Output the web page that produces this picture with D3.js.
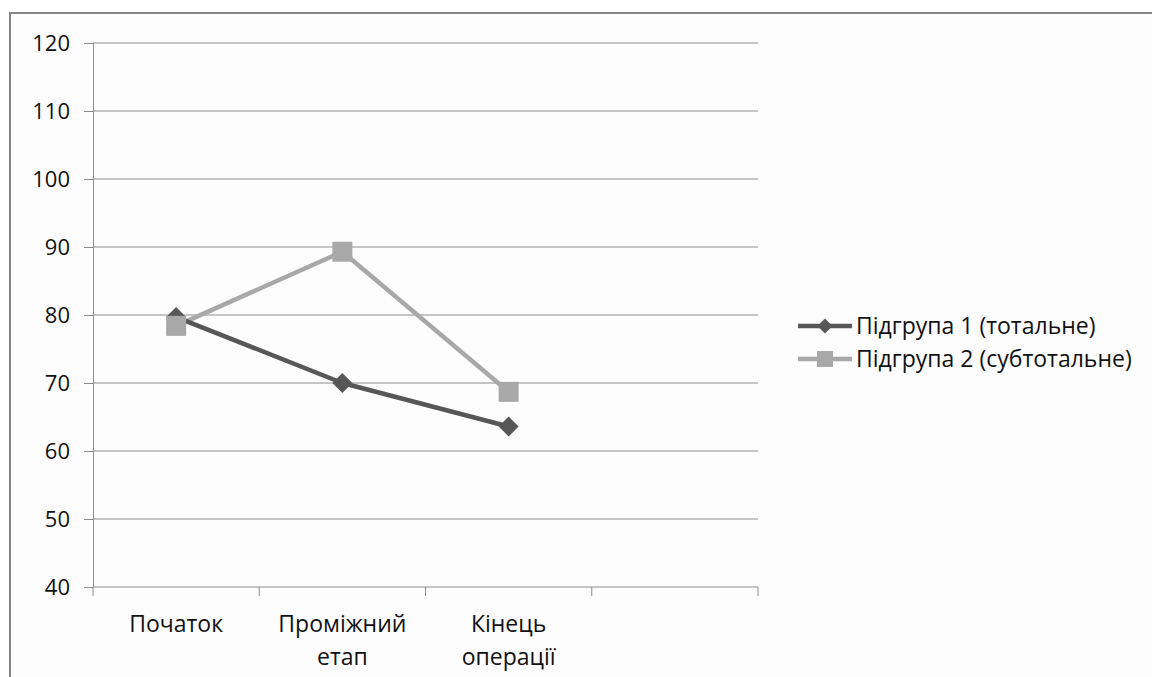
<!DOCTYPE html>
<html>
<head>
<meta charset="utf-8">
<script src="https://cdnjs.cloudflare.com/ajax/libs/d3/7.8.5/d3.min.js"></script>
<style>
  html, body { margin: 0; padding: 0; background: #ffffff; }
  svg { display: block; }
  text { font-family: "Open Sans", "DejaVu Sans", sans-serif; fill: #111111; }
</style>
</head>
<body>
<svg id="chart" width="1152" height="677"></svg>
<script>
// Category labels (the fourth slot on the axis is left empty)
const categories = ["Початок", "Проміжний етап", "Кінець операції", ""];
const seriesNames = ["Підгрупа 1 (тотальне)", "Підгрупа 2 (субтотальне)"];
const series1 = [79.7, 70.0, 63.6];
const series2 = [78.4, 89.3, 68.7];
const yTicks = [40, 50, 60, 70, 80, 90, 100, 110, 120];

const svg = d3.select("#chart");
const W = 1152, H = 677;
const TICK_FONT = 22;
const LABEL_FONT = 23;

// Outer frame
svg.append("rect").attr("x", 0).attr("y", 0).attr("width", W).attr("height", H).attr("fill", "#ffffff");
svg.append("rect")
  .attr("x", 10).attr("y", 13).attr("width", W + 20).attr("height", H + 20)
  .attr("fill", "#fdfdfd").attr("stroke", "#858585").attr("stroke-width", 2);

const plot = { left: 93, right: 758, top: 43, bottom: 587 };

const x = d3.scaleBand().domain(d3.range(categories.length))
  .range([plot.left, plot.right]).paddingInner(0).paddingOuter(0);
const y = d3.scaleLinear().domain([40, 120]).range([plot.bottom, plot.top]);

// Horizontal gridlines
svg.append("g").selectAll("line").data(yTicks.filter(t => t > 40)).join("line")
  .attr("x1", plot.left).attr("x2", plot.right)
  .attr("y1", d => y(d)).attr("y2", d => y(d))
  .attr("stroke", "#8c8c8c").attr("stroke-width", 1);

// Y axis
const yAxis = d3.axisLeft(y).tickValues(yTicks).tickSize(9).tickPadding(14);
const gy = svg.append("g").attr("transform", `translate(${plot.left},0)`).call(yAxis);
gy.attr("font-size", TICK_FONT).attr("font-family", null);
gy.select(".domain").attr("stroke", "#8c8c8c");
gy.selectAll(".tick line").attr("stroke", "#8c8c8c");
gy.selectAll(".tick text").attr("fill", "#111111");

// X axis: ticks at category boundaries
const boundaries = d3.range(categories.length + 1).map(i => plot.left + i * x.bandwidth());
const gx = svg.append("g");
gx.append("line").attr("x1", plot.left).attr("x2", plot.right)
  .attr("y1", plot.bottom).attr("y2", plot.bottom).attr("stroke", "#8c8c8c");
gx.selectAll("line.tk").data(boundaries).join("line").attr("class", "tk")
  .attr("x1", d => d).attr("x2", d => d)
  .attr("y1", plot.bottom).attr("y2", plot.bottom + 9).attr("stroke", "#8c8c8c");

// Category labels, wrapped onto two lines where needed
const catLines = categories.map(c => {
  const parts = c.split(" ");
  return parts.length > 1 ? parts : [c];
});
gx.selectAll("text.cat").data(categories.map((c, i) => i)).join("text").attr("class", "cat")
  .attr("x", i => x(i) + x.bandwidth() / 2)
  .attr("y", 632)
  .attr("text-anchor", "middle")
  .attr("font-size", LABEL_FONT)
  .each(function(i) {
    const t = d3.select(this);
    catLines[i].forEach((ln, k) => {
      t.append("tspan").attr("x", x(i) + x.bandwidth() / 2).attr("dy", k === 0 ? 0 : 33).text(ln);
    });
  });

const cx = i => x(i) + x.bandwidth() / 2;
const line = d3.line().x((d, i) => cx(i)).y(d => y(d));

const col1 = "#575757", col2 = "#a8a8a8";

// Series 2 (light, squares)
svg.append("path").datum(series2).attr("d", line)
  .attr("fill", "none").attr("stroke", col2).attr("stroke-width", 4.5).attr("stroke-linejoin", "round");
// Series 1 (dark, diamonds)
svg.append("path").datum(series1).attr("d", line)
  .attr("fill", "none").attr("stroke", col1).attr("stroke-width", 4.5).attr("stroke-linejoin", "round");

const diamond = d3.symbol().type(d3.symbolSquare).size(200);
svg.append("g").selectAll("path").data(series1).join("path")
  .attr("d", diamond)
  .attr("transform", (d, i) => `translate(${cx(i)},${y(d)}) rotate(45)`)
  .attr("fill", col1);

svg.append("g").selectAll("rect").data(series2).join("rect")
  .attr("x", (d, i) => cx(i) - 10).attr("y", d => y(d) - 10)
  .attr("width", 20).attr("height", 20).attr("fill", col2);

// Legend
const legend = svg.append("g");
const legendItems = [
  { name: seriesNames[0], color: col1, marker: "diamond", y: 326 },
  { name: seriesNames[1], color: col2, marker: "square", y: 359 }
];
legendItems.forEach(it => {
  legend.append("line").attr("x1", 798).attr("x2", 852).attr("y1", it.y).attr("y2", it.y)
    .attr("stroke", it.color).attr("stroke-width", 4.5);
  if (it.marker === "diamond") {
    legend.append("path").attr("d", d3.symbol().type(d3.symbolSquare).size(115))
      .attr("transform", `translate(825,${it.y}) rotate(45)`).attr("fill", it.color);
  } else {
    legend.append("rect").attr("x", 817).attr("y", it.y - 8).attr("width", 16).attr("height", 16)
      .attr("fill", it.color);
  }
  legend.append("text").attr("x", 856).attr("y", it.y + 8).attr("font-size", LABEL_FONT).text(it.name);
});
</script>
</body>
</html>
